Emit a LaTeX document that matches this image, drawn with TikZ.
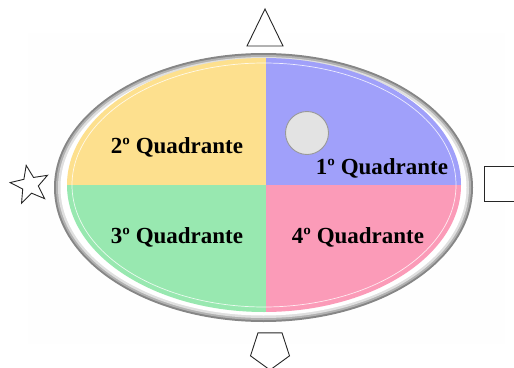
\documentclass[tikz,border=0pt]{standalone}
\usepackage{fontspec}
\setmainfont{Liberation Serif}
\usetikzlibrary{shapes.geometric}
\definecolor{quadyellow}{HTML}{FDE08E}
\definecolor{quadblue}{HTML}{A0A0FA}
\definecolor{quadgreen}{HTML}{98E8B0}
\definecolor{quadpink}{HTML}{FB9BB8}

\begin{document}
\begin{tikzpicture}[x=1pt, y=-1pt,
    quadlabel/.style={font=\bfseries\fontsize{23}{23}\selectfont, anchor=base, inner sep=0pt},
    symbolshape/.style={draw=black!85, line width=0.9pt, fill=white, inner sep=0pt}]
        \useasboundingbox (0,0) rectangle (514,367);
        \clip (0,0) rectangle (514,367);

        % Explicit Coordinates: pixels, y downwards
        \coordinate (C)   at (263.5, 187.5);   % Ring centre
        \coordinate (F)   at (264, 185);       % Fill centre
        \coordinate (X)   at (266, 185);       % Axis crossing
        \coordinate (Top) at (266, 40);
        \coordinate (Bot) at (266, 330);
        \coordinate (Lft) at (50, 185);
        \coordinate (Rgt) at (480, 185);

        % faint backdrop
        \fill[black!0.5] (28,33) rectangle (505,344);

        % the ring
        \fill[gray!95] (C) ellipse [x radius=209.5, y radius=134.5];
        \fill[gray!60] (C) ellipse [x radius=207.5, y radius=132.5];
        \fill[gray!25] (C) ellipse [x radius=205.5, y radius=130.5];
        \fill[white]   (C) ellipse [x radius=203, y radius=128];

        % the quadrants
        \begin{scope}
            \clip (F) ellipse [x radius=197, y radius=127];
            \fill[quadyellow] (X) rectangle (Lft |- Top);
            \fill[quadblue]   (X) rectangle (Rgt |- Top);
            \fill[quadgreen]  (X) rectangle (Lft |- Bot);
            \fill[quadpink]   (X) rectangle (Rgt |- Bot);
            \draw[white, line width=0.7pt, opacity=0.8] (F) ellipse [x radius=192, y radius=122];
        \end{scope}

        % the labels
        \node[quadlabel] (Q2) at (177, 153) {2º Quadrante};
        \node[quadlabel] (Q1) at (382, 174) {1º Quadrante};
        \node[quadlabel] (Q3) at (177, 243) {3º Quadrante};
        \node[quadlabel] (Q4) at (358, 243) {4º Quadrante};

        % the ball
        \node[circle, draw=gray!80, line width=0.9pt, fill=black!11, minimum size=43pt, inner sep=0pt] (Ball) at (307, 133) {};

        % the symbols round the ring
        \draw[symbolshape] (247,46) -- (265,9) -- (283,46) -- cycle;
        \node[symbolshape, star, star points=5, star point ratio=2.4, minimum size=40pt, rotate=11] (Star) at (30, 185) {};
        \draw[symbolshape] (484,166) rectangle (530,201);
        \node[symbolshape, regular polygon, regular polygon sides=5, shape border rotate=180, minimum size=41pt] (Penta) at (270, 349.5) {};
    \end{tikzpicture}
\end{document}
